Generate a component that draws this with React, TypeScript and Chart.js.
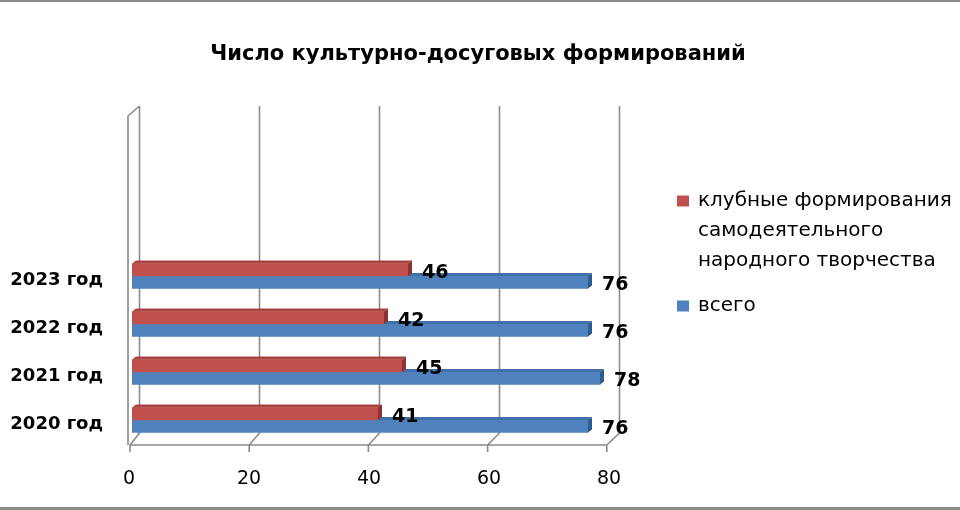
import { useEffect, useRef } from "react";
import { Chart, registerables } from "chart.js";

Chart.register(...registerables);

// bottom to top, as on the y axis
const years = ["2020 год", "2021 год", "2022 год", "2023 год"];
// the 3D back wall is taller than the bars need, so the top rows stay empty
const emptyRows = ["", "", ""];
const clubValues = [41, 45, 42, 46];
const totalValues = [76, 78, 76, 76];
const xTicks = [0, 20, 40, 60, 80];

const chartTitle = "Число культурно-досуговых формирований";
const clubLegend = ["клубные формирования", "самодеятельного", "народного творчества"];
const totalLegend = ["всего"];

const FONT = "'DejaVu Sans', sans-serif";
const GRID = "#8a8a8a";
const shades = [
  { front: "#C0504D", top: "#A8423F", side: "#8C3330" },
  { front: "#4F81BD", top: "#4270A8", side: "#2F5B90" },
];
const DX = 4; // bar depth
const DY = 3;

const bars3d = {
  id: "bars3d",
  afterDatasetDraw(chart: any, args: any) {
    const { ctx } = chart;
    const c = shades[args.index];
    ctx.save();
    args.meta.data.forEach((bar: any) => {
      const { x, y, base, height } = bar.getProps(["x", "y", "base", "height"], true);
      const top = y - height / 2;
      const bottom = y + height / 2;
      ctx.fillStyle = c.top;
      ctx.beginPath();
      ctx.moveTo(base, top);
      ctx.lineTo(base + DX, top - DY);
      ctx.lineTo(x + DX, top - DY);
      ctx.lineTo(x, top);
      ctx.closePath();
      ctx.fill();
      ctx.fillStyle = c.side;
      ctx.beginPath();
      ctx.moveTo(x, top);
      ctx.lineTo(x + DX, top - DY);
      ctx.lineTo(x + DX, bottom - DY);
      ctx.lineTo(x, bottom);
      ctx.closePath();
      ctx.fill();
    });
    ctx.restore();
  },
};

// back wall grid, floor and left wall of the Excel 3D look
const wall3d = {
  id: "wall3d",
  beforeDatasetsDraw(chart: any) {
    const { ctx, chartArea } = chart;
    const xs = chart.scales.x;
    const front = (v: number) => xs.getPixelForValue(v) - 2 - v * 0.04;
    const back = (v: number) => xs.getPixelForValue(v) + 7.5;
    const fy = chartArea.bottom + 1;
    const by = fy - 12;
    const ty = chartArea.top - 2;
    ctx.save();
    ctx.strokeStyle = GRID;
    ctx.lineWidth = 1.6;
    ctx.beginPath();
    xTicks.forEach((v) => {
      ctx.moveTo(back(v), ty);
      ctx.lineTo(back(v), by);
      ctx.lineTo(front(v), fy);
      ctx.lineTo(front(v), fy + 7);
    });
    ctx.moveTo(front(0), fy);
    ctx.lineTo(front(80), fy);
    ctx.moveTo(front(0) - 2, fy);
    ctx.lineTo(front(0) - 2, ty + 10);
    ctx.lineTo(back(0), ty);
    ctx.stroke();
    ctx.restore();
  },
};

const valueLabels = {
  id: "valueLabels",
  afterDatasetsDraw(chart: any) {
    const { ctx } = chart;
    ctx.save();
    ctx.font = `bold 19px ${FONT}`;
    ctx.fillStyle = "#000";
    ctx.textAlign = "left";
    ctx.textBaseline = "middle";
    chart.data.datasets.forEach((ds: any, i: number) => {
      chart.getDatasetMeta(i).data.forEach((bar: any, j: number) => {
        ctx.fillText(String(ds.data[j]), bar.x + 14, bar.y + 3);
      });
    });
    ctx.restore();
  },
};

// title over the whole width, not only over the plot
const wideTitle = {
  id: "wideTitle",
  afterDraw(chart: any) {
    const { ctx, width } = chart;
    ctx.save();
    ctx.font = `bold 21px ${FONT}`;
    ctx.fillStyle = "#000";
    ctx.textAlign = "center";
    ctx.textBaseline = "middle";
    ctx.fillText(chartTitle, width / 2 - 2, 55);
    ctx.restore();
  },
};

const sideLegend = {
  id: "sideLegend",
  afterDraw(chart: any) {
    const { ctx, chartArea } = chart;
    const left = chartArea.right + 65;
    let y = 201;
    ctx.save();
    ctx.font = `20px ${FONT}`;
    ctx.textBaseline = "middle";
    [clubLegend, totalLegend].forEach((lines, i) => {
      ctx.fillStyle = shades[i].front;
      ctx.fillRect(left, y - 5.5, 12, 11);
      ctx.fillStyle = "#000";
      lines.forEach((line, k) => {
        ctx.fillText(line, left + 21, y + k * 30);
      });
      y += lines.length * 30 + 15;
    });
    ctx.restore();
  },
};

export default function App() {
  const canvasRef = useRef<HTMLCanvasElement>(null);

  useEffect(() => {
    document.body.style.margin = "0";
    if (!canvasRef.current) return;

    const chart = new Chart(canvasRef.current, {
      type: "bar",
      data: {
        labels: [...years, ...emptyRows],
        datasets: [
          {
            label: clubLegend.join(" "),
            data: clubValues,
            backgroundColor: shades[0].front,
            borderWidth: 0,
            barThickness: 12.5,
          },
          {
            label: totalLegend.join(" "),
            data: totalValues,
            backgroundColor: shades[1].front,
            borderWidth: 0,
            barThickness: 12.5,
          },
        ],
      },
      options: {
        indexAxis: "y",
        responsive: false,
        animation: false,
        layout: { padding: { left: 0, right: 348, top: 108, bottom: 0 } },
        plugins: {
          legend: { display: false },
          tooltip: { enabled: false },
          title: { display: false },
        },
        scales: {
          x: {
            min: 0,
            max: 80,
            afterBuildTicks: (scale: any) => {
              scale.ticks = xTicks.map((v) => ({ value: v }));
            },
            afterFit: (scale: any) => {
              scale.height = 510 - 444;
            },
            grid: { display: false, drawTicks: false },
            border: { display: false },
            ticks: {
              color: "#000",
              font: { family: FONT, size: 19 },
              padding: 24,
              labelOffset: -3,
            },
          },
          y: {
            reverse: true,
            afterFit: (scale: any) => {
              scale.width = 132;
            },
            grid: { display: false, drawTicks: false },
            border: { display: false },
            ticks: {
              color: "#000",
              font: { family: FONT, size: 18, weight: "bold" },
              padding: 29,
              labelOffset: 4,
            },
          },
        },
      },
      plugins: [wall3d, bars3d, valueLabels, wideTitle, sideLegend],
    });

    return () => chart.destroy();
  }, []);

  return (
    <div style={{ position: "relative", width: 960, height: 510, background: "#fff" }}>
      <canvas ref={canvasRef} width={960} height={510} style={{ display: "block" }} />
      <div style={{ position: "absolute", left: 0, right: 0, top: 0, height: 2, background: "#8a8a8a" }} />
      <div style={{ position: "absolute", left: 0, right: 0, bottom: 0, height: 3, background: "#8a8a8a" }} />
    </div>
  );
}
